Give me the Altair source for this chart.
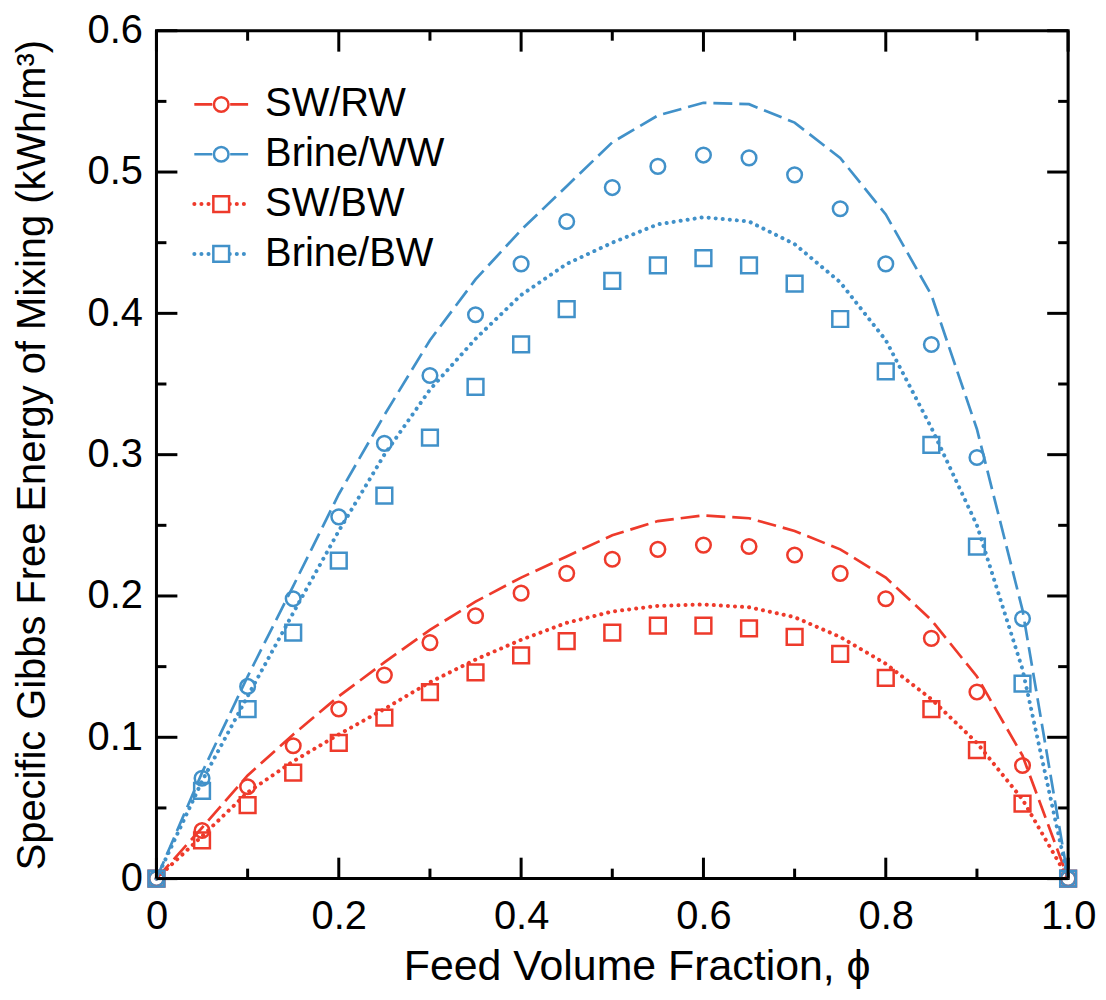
import altair as alt
import pandas as pd

# ---------------- data ----------------
SERIES = ["SW/RW", "Brine/WW", "SW/BW", "Brine/BW"]
COLORS = ["#EE3A2B", "#4191C9", "#EE3A2B", "#4191C9"]

XS = [0.0, 0.05, 0.1, 0.15, 0.2, 0.25, 0.3, 0.35, 0.4, 0.45, 0.5,
      0.55, 0.6, 0.65, 0.7, 0.75, 0.8, 0.85, 0.9, 0.95, 1.0]

# symbols
SW_RW_PTS = [0, 0.034, 0.065, 0.094, 0.120, 0.144, 0.167, 0.186, 0.202, 0.216, 0.226,
             0.233, 0.236, 0.235, 0.229, 0.216, 0.198, 0.170, 0.132, 0.080, 0]
BRINE_WW_PTS = [0, 0.071, 0.136, 0.198, 0.256, 0.308, 0.356, 0.399, 0.435, 0.465, 0.489,
                0.504, 0.512, 0.510, 0.498, 0.474, 0.435, 0.378, 0.298, 0.184, 0]
SW_BW_PTS = [0, 0.027, 0.052, 0.075, 0.096, 0.114, 0.132, 0.146, 0.158, 0.168, 0.174,
             0.179, 0.179, 0.177, 0.171, 0.159, 0.142, 0.120, 0.091, 0.053, 0]
BRINE_BW_PTS = [0, 0.062, 0.120, 0.174, 0.225, 0.271, 0.312, 0.348, 0.378, 0.403, 0.423,
                0.434, 0.439, 0.434, 0.421, 0.396, 0.359, 0.307, 0.235, 0.138, 0]

# curves
SW_RW_LINE = [0, 0.036, 0.073, 0.102, 0.129, 0.153, 0.176, 0.196, 0.213, 0.228, 0.243,
              0.253, 0.257, 0.255, 0.246, 0.233, 0.213, 0.183, 0.143, 0.087, 0]
BRINE_WW_LINE = [0, 0.075, 0.143, 0.207, 0.272, 0.328, 0.381, 0.424, 0.459, 0.490, 0.521,
                 0.540, 0.549, 0.548, 0.535, 0.510, 0.470, 0.413, 0.318, 0.190, 0]
SW_BW_LINE = [0, 0.030, 0.061, 0.083, 0.102, 0.120, 0.139, 0.155, 0.169, 0.181, 0.189,
              0.193, 0.194, 0.192, 0.185, 0.171, 0.152, 0.127, 0.096, 0.056, 0]
BRINE_BW_LINE = [0, 0.069, 0.129, 0.188, 0.246, 0.300, 0.346, 0.382, 0.413, 0.435, 0.450,
                 0.463, 0.468, 0.465, 0.449, 0.422, 0.381, 0.319, 0.250, 0.148, 0]

X_MAJOR = [0.0, 0.2, 0.4, 0.6, 0.8, 1.0]
X_MINOR = [0.1, 0.3, 0.5, 0.7, 0.9]
Y_MAJOR = [0.0, 0.1, 0.2, 0.3, 0.4, 0.5, 0.6]
Y_MINOR = [0.05, 0.15, 0.25, 0.35, 0.45, 0.55]

# ---------------- tables ----------------
pts_map = {"SW/RW": SW_RW_PTS, "Brine/WW": BRINE_WW_PTS, "SW/BW": SW_BW_PTS, "Brine/BW": BRINE_BW_PTS}
line_map = {"SW/RW": SW_RW_LINE, "Brine/WW": BRINE_WW_LINE, "SW/BW": SW_BW_LINE, "Brine/BW": BRINE_BW_LINE}

pts = pd.DataFrame([{"series": s, "order": i, "x": x, "y": y}
                    for i, s in enumerate(SERIES) for x, y in zip(XS, pts_map[s])])
lines = pd.DataFrame([{"series": s, "x": x, "y": y}
                      for s in SERIES for x, y in zip(XS, line_map[s])])
legend_df = pd.DataFrame({"series": SERIES, "row": [0, 1, 2, 3]})

W, H = 915, 851
FONT = "Liberation Sans"
MAJ, MIN = 21, 10

color_scale = alt.Scale(domain=SERIES, range=COLORS)
xs = alt.Scale(domain=[0, 1], nice=False, zero=False)
ys = alt.Scale(domain=[0, 0.6], nice=False, zero=False)

label_expr = "datum.value == 0 ? '0' : format(datum.value, '.1f')"

x_enc = alt.X("x:Q", scale=xs, axis=alt.Axis(
    values=X_MAJOR, labelExpr=label_expr, title="Feed Volume Fraction, ϕ",
    domain=False, ticks=False, grid=False, labelPadding=18, labelFlush=False,
    titleFontSize=43,
    titleX=482, titleY=88, titleBaseline="middle", titleAlign="center"))
y_enc = alt.Y("y:Q", scale=ys, axis=alt.Axis(
    values=Y_MAJOR, labelExpr=label_expr,
    title="Specific Gibbs Free Energy of Mixing (kWh/m³)",
    domain=False, ticks=False, grid=False, labelPadding=14, labelFlush=False,
    titleFontSize=40,
    titleX=-124, titleY=H / 2, titleBaseline="middle", titleAlign="center"))

col = alt.Color("series:N", scale=color_scale, legend=None)

DASH_W, DOT_W = 2.7, 4.0
DOT = [0.1, 7.0]

dashed = alt.Chart(lines).transform_filter(
    alt.FieldOneOfPredicate(field="series", oneOf=["SW/RW", "Brine/WW"])
).mark_line(strokeWidth=DASH_W, strokeDash=[19, 7]).encode(
    x=x_enc, y=y_enc, color=col, detail="series:N")

dotted = alt.Chart(lines).transform_filter(
    alt.FieldOneOfPredicate(field="series", oneOf=["SW/BW", "Brine/BW"])
).mark_line(strokeWidth=DOT_W, strokeDash=DOT, strokeCap="round").encode(
    x="x:Q", y="y:Q", color=col, detail="series:N")

circles = alt.Chart(pts).transform_filter(
    alt.FieldOneOfPredicate(field="series", oneOf=["SW/RW", "Brine/WW"])
).mark_point(shape="circle", filled=False, size=215, strokeWidth=2.5, opacity=1).encode(
    x="x:Q", y="y:Q", color=col)

squares = alt.Chart(pts).transform_filter(
    alt.FieldOneOfPredicate(field="series", oneOf=["SW/BW", "Brine/BW"])
).mark_point(shape="square", filled=False, size=250, strokeWidth=2.5, opacity=1).encode(
    x="x:Q", y="y:Q", color=col, order="order:Q")

# inward ticks on all four sides
xmaj = pd.DataFrame({"x": X_MAJOR})
xmin = pd.DataFrame({"x": X_MINOR})
ymaj = pd.DataFrame({"y": Y_MAJOR})
ymin = pd.DataFrame({"y": Y_MINOR})

tick_layers = []
for df, L in [(xmaj, MAJ), (xmin, MIN)]:
    tick_layers.append(alt.Chart(df).mark_rule(color="black", strokeWidth=3).encode(
        x="x:Q", y=alt.value(H), y2=alt.value(H - L)))
    tick_layers.append(alt.Chart(df).mark_rule(color="black", strokeWidth=3).encode(
        x="x:Q", y=alt.value(0), y2=alt.value(L)))
for df, L in [(ymaj, MAJ), (ymin, MIN)]:
    tick_layers.append(alt.Chart(df).mark_rule(color="black", strokeWidth=3).encode(
        y="y:Q", x=alt.value(0), x2=alt.value(L)))
    tick_layers.append(alt.Chart(df).mark_rule(color="black", strokeWidth=3).encode(
        y="y:Q", x=alt.value(W), x2=alt.value(W - L)))

# legend (drawn in pixel space, top-left inside the plot)
leg_base = alt.Chart(legend_df).transform_calculate(py="74 + 50 * datum.row")
leg_y = alt.Y("py:Q", scale=None, axis=None)
leg_col = alt.Stroke("series:N", scale=color_scale, legend=None)

leg_dash = leg_base.transform_filter("datum.row < 2").mark_rule(
    strokeWidth=DASH_W, strokeDash=[18, 18]).encode(
    x=alt.value(38), x2=alt.value(92), y=leg_y, stroke=leg_col)
leg_dot = leg_base.transform_filter("datum.row >= 2").mark_rule(
    strokeWidth=DOT_W, strokeDash=DOT, strokeCap="round").encode(
    x=alt.value(38), x2=alt.value(94), y=leg_y, stroke=leg_col)
leg_circ = leg_base.transform_filter("datum.row < 2").mark_point(
    shape="circle", size=215, strokeWidth=2.5, fill="white", fillOpacity=1, opacity=1).encode(
    x=alt.value(65), y=leg_y, stroke=leg_col)
leg_sq = leg_base.transform_filter("datum.row >= 2").mark_point(
    shape="square", size=250, strokeWidth=2.5, fill="white", fillOpacity=1, opacity=1).encode(
    x=alt.value(65), y=leg_y, stroke=leg_col)
leg_txt = leg_base.mark_text(align="left", baseline="middle", fontSize=40, font=FONT,
                             color="black").encode(x=alt.value(109), y=leg_y, text="series:N")

chart = alt.layer(
    dashed, dotted, circles, squares, *tick_layers,
    leg_dash, leg_dot, leg_circ, leg_sq, leg_txt
).properties(
    width=W, height=H,
    autosize=alt.AutoSizeParams(type="none"),
    padding={"left": 149, "top": 21, "right": 30, "bottom": 110},
).configure_view(
    stroke="black", strokeWidth=3
).configure_axis(
    labelFont=FONT, labelFontSize=40, labelColor="black",
    titleFont=FONT, titleFontWeight="normal", titleColor="black"
)

chart.save("out.html", embed_options={"renderer": "svg", "actions": False})
